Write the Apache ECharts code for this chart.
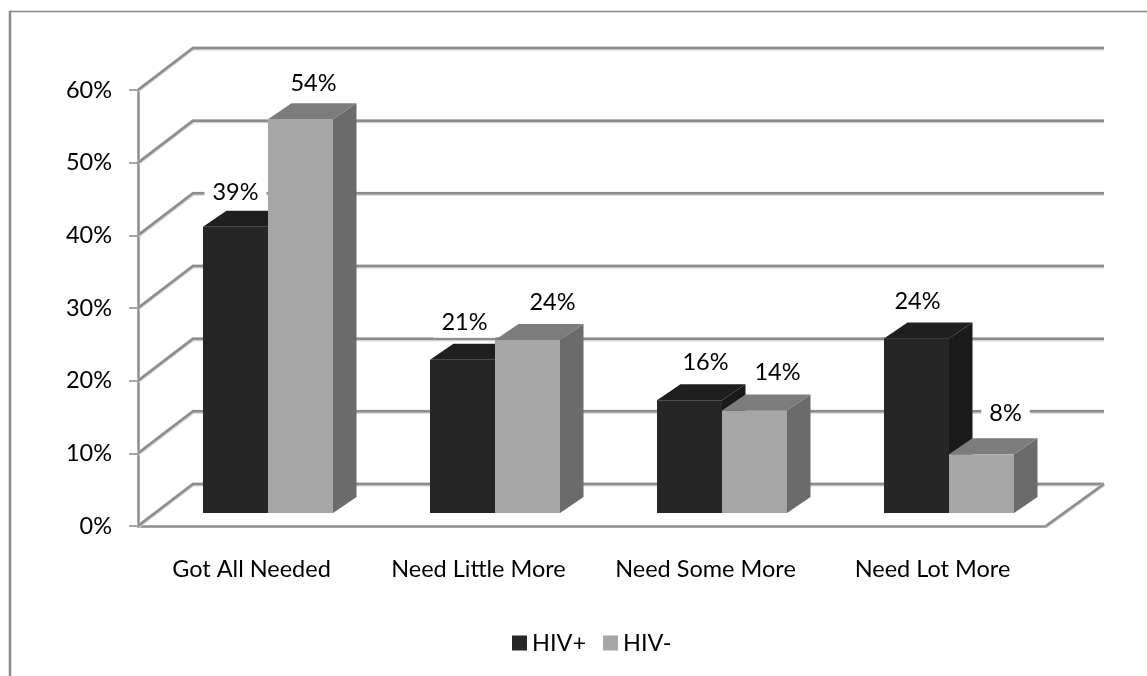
<!DOCTYPE html>
<html>
<head>
<meta charset="utf-8">
<style>html,body{margin:0;padding:0;background:#fff}#c{width:1147px;height:676px}</style>
<script src="https://cdn.jsdelivr.net/npm/echarts@6/dist/echarts.min.js"></script>
</head>
<body>
<div id="c"></div>
<script>
const categories = ['Got All Needed', 'Need Little More', 'Need Some More', 'Need Lot More'];
const hivPositive = [39.4, 21.1, 15.5, 24];
const hivNegative = [54.2, 23.8, 14.1, 8.1];
const axisTicks = [0, 10, 20, 30, 40, 50, 60];

// Layout of the pseudo-3D drawing (pixels)
const wallDx = 55, wallDy = -42, wallEnd = 1104;
const floorRight = 1046;
const barW = 65, depthDx = 23.5, depthDy = -16, baseLift = 13, pairShift = 16.5;
const lineCol = '#8c8c8c', lineHalo = '#d4d4d4', lineW = 2.5;
const font = 'Lato, sans-serif', fontSize = 23.5;
// label nudges from the top-centre of each front face
const nudgePos = [[0, -34], [2, -37], [16, -38], [1, -37.5]];
const nudgeNeg = [[13, -36], [25, -38], [23, -38.5], [24, -41]];

const chart = echarts.init(document.getElementById('c'), null, {renderer: 'canvas'});

function seg(x1, y1, x2, y2) {
  return [
    {type: 'line', shape: {x1, y1: y1 + 0.5, x2, y2: y2 + 0.5}, style: {stroke: lineHalo, lineWidth: lineW + 1.5, fill: null}},
    {type: 'line', shape: {x1, y1, x2, y2}, style: {stroke: lineCol, lineWidth: lineW, fill: null}}
  ];
}

function wallItem(params, api) {
  const v = api.value(0);
  const y = api.coord([0, v])[1];
  const x0 = params.coordSys.x;
  const bx = x0 + wallDx, by = y + wallDy;
  const children = seg(bx - 1, by, wallEnd, by).concat(seg(x0, y, bx, by));
  if (v === 0) {
    children.push(...seg(floorRight, y, wallEnd, by));
  }
  return {type: 'group', children};
}

function barItem(side, front, top, dark, nudges) {
  return function (params, api) {
    const i = api.value(0), v = api.value(1);
    const c = api.coord([i, v]);
    const base = api.coord([i, 0])[1] - baseLift;
    const y = c[1] - baseLift;
    const x = c[0] + pairShift + (side === 0 ? -barW : 0);
    const xr = x + barW;
    const n = nudges[i];
    return {
      type: 'group',
      children: [
        {type: 'polygon', shape: {points: [[xr, y], [xr + depthDx, y + depthDy], [xr + depthDx, base + depthDy], [xr, base]]}, style: {fill: dark}},
        {type: 'polygon', shape: {points: [[x, y], [x + depthDx, y + depthDy], [xr + depthDx, y + depthDy], [xr, y]]}, style: {fill: top}},
        {type: 'rect', shape: {x, y, width: barW, height: base - y}, style: {fill: front}},
        {type: 'text', z2: 50, style: {
          x: x + barW / 2 + n[0], y: y + n[1], text: Math.round(v) + '%', align: 'center', verticalAlign: 'middle',
          font: fontSize + 'px ' + font, fill: '#000',
          backgroundColor: '#fff', padding: [3, 8, 3, 8]
        }}
      ]
    };
  };
}

const pairData = arr => arr.map((v, i) => [i, v]);

chart.setOption({
  animation: false,
  backgroundColor: '#fff',
  graphic: [
    {type: 'line', silent: true, z: -1, shape: {x1: 10, y1: 11, x2: 10, y2: 676}, style: {stroke: '#8a8a8a', lineWidth: 2.5}},
    {type: 'line', silent: true, z: -1, shape: {x1: 9, y1: 11.5, x2: 1147, y2: 11.5}, style: {stroke: '#868686', lineWidth: 1.5}}
  ],
  grid: {left: 138, top: 90, width: 908, height: 436},
  legend: {
    left: 507, top: 626, itemWidth: 15, itemHeight: 15, itemGap: 17, icon: 'rect',
    data: ['HIV+', 'HIV-'],
    textStyle: {fontFamily: font, fontSize: fontSize, color: '#000'}
  },
  xAxis: {
    type: 'category', data: categories,
    axisLine: {lineStyle: {color: lineCol, width: lineW}},
    axisTick: {length: 9, alignWithLabel: false, lineStyle: {color: lineCol, width: 1.5}},
    axisLabel: {margin: 31, fontFamily: font, fontSize: fontSize, color: '#000', interval: 0},
    splitLine: {show: false}
  },
  yAxis: {
    type: 'value', min: 0, max: 60, interval: 10,
    axisLine: {show: true, lineStyle: {color: lineCol, width: lineW}},
    axisTick: {show: true, length: 9, lineStyle: {color: lineCol, width: 1.5}},
    axisLabel: {margin: 26, fontFamily: font, fontSize: fontSize, color: '#000', formatter: '{value}%'},
    splitLine: {show: false}
  },
  series: [
    {
      type: 'custom', name: 'walls', silent: true, z: 1, clip: false,
      data: axisTicks.map(v => [v]), encode: {y: 0},
      renderItem: wallItem
    },
    {
      type: 'custom', name: 'HIV+', z: 2, clip: false,
      itemStyle: {color: '#262626'},
      data: pairData(hivPositive), encode: {x: 0, y: 1},
      renderItem: barItem(0, '#262626', '#1f1f1f', '#1a1a1a', nudgePos)
    },
    {
      type: 'custom', name: 'HIV-', z: 3, clip: false,
      itemStyle: {color: '#a6a6a6'},
      data: pairData(hivNegative), encode: {x: 0, y: 1},
      renderItem: barItem(1, '#a6a6a6', '#7c7c7c', '#6b6b6b', nudgeNeg)
    }
  ]
});
</script>
</body>
</html>
